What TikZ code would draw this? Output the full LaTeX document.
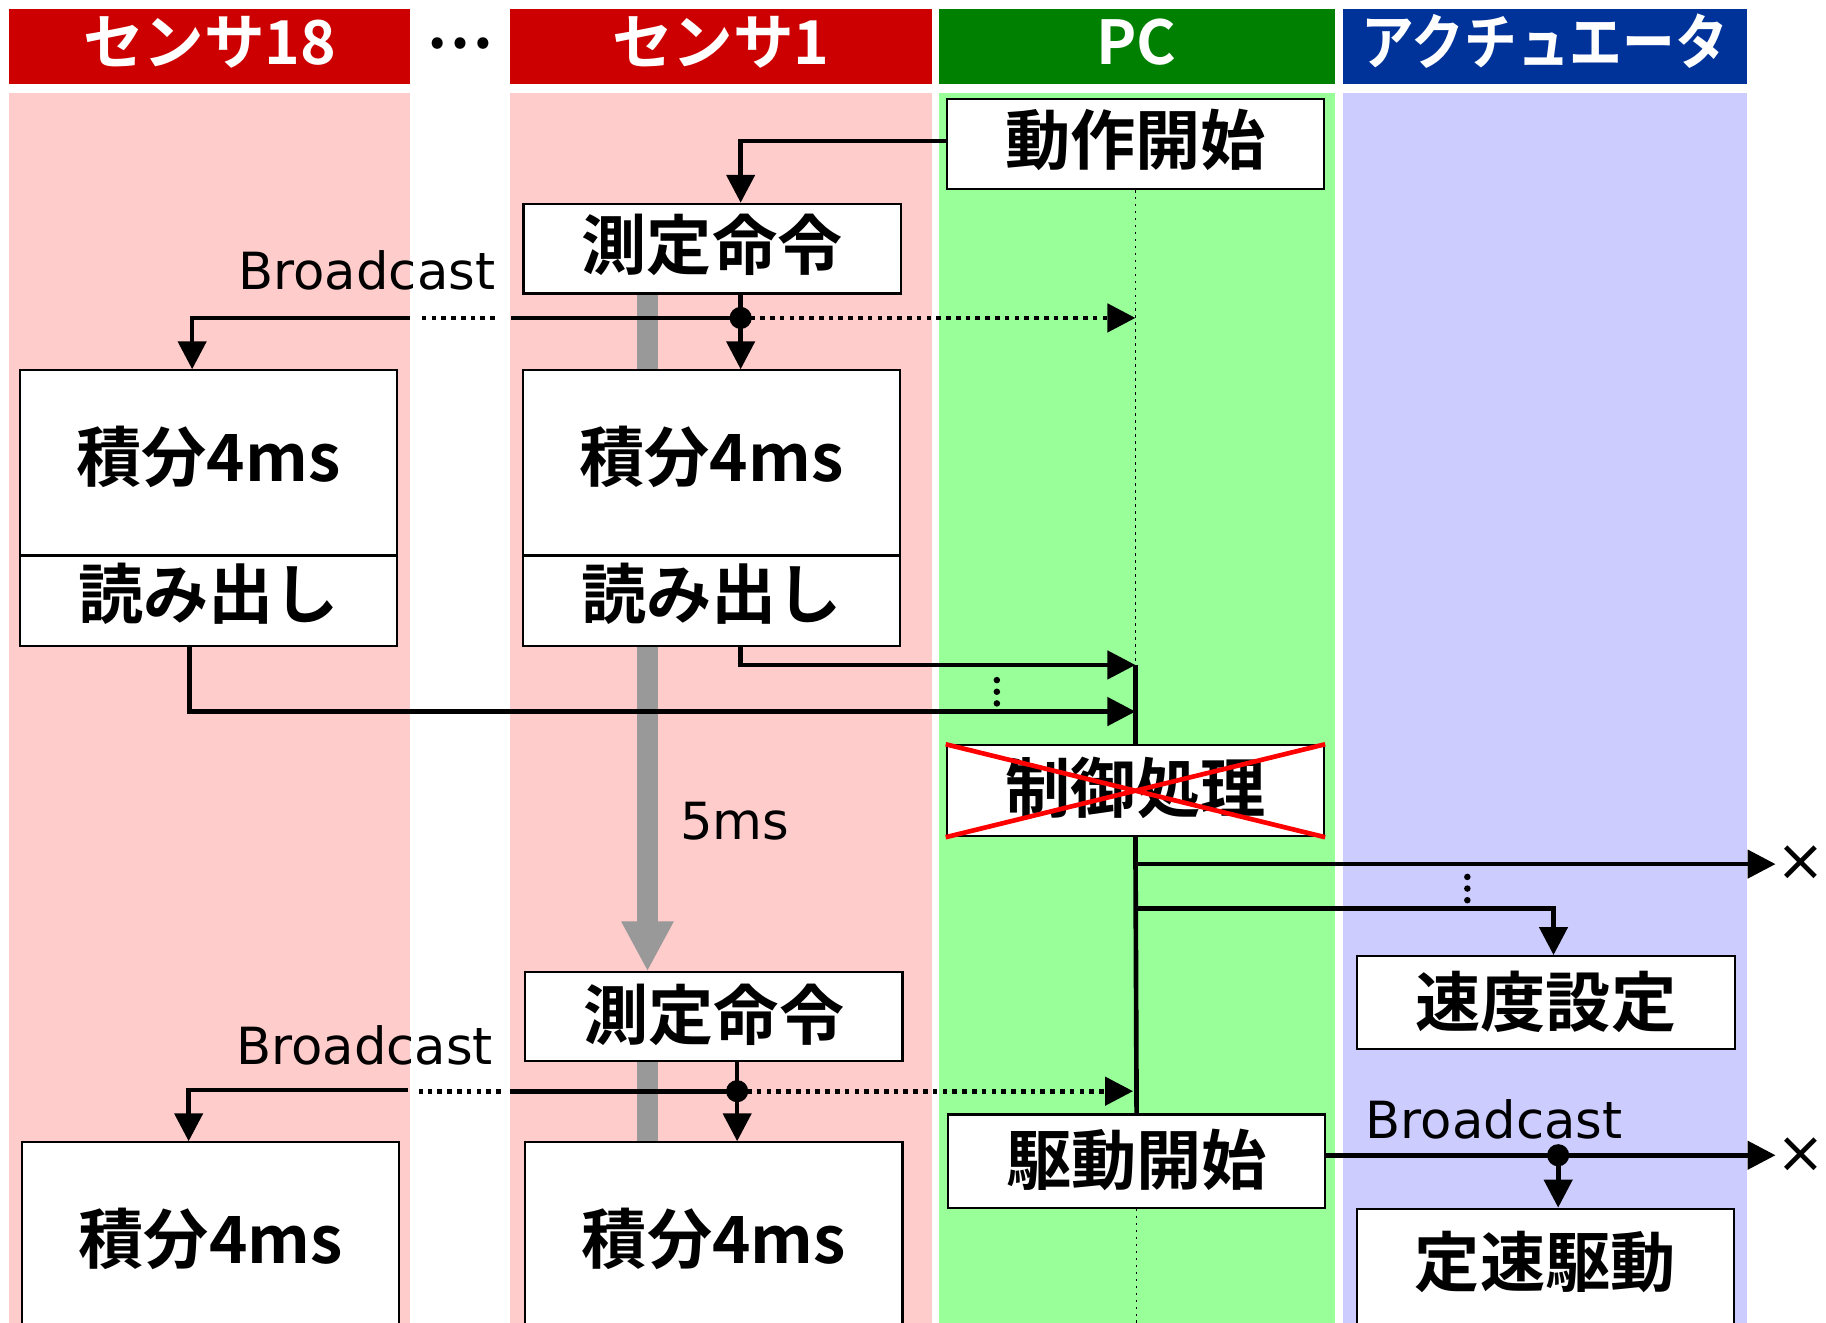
\documentclass[tikz,border=0pt]{standalone}
\usepackage{fontspec}
\newfontfamily\jp{Noto Sans CJK JP Bold}
\newfontfamily\dv{DejaVu Sans}
\usetikzlibrary{arrows.meta,calc,backgrounds}
\definecolor{hred}{HTML}{CC0000}
\definecolor{hgreen}{HTML}{008000}
\definecolor{hblue}{HTML}{003399}
\definecolor{bpink}{HTML}{FFCCCC}
\definecolor{bgreen}{HTML}{99FF99}
\definecolor{bblue}{HTML}{CCCCFF}
\definecolor{garrow}{HTML}{999999}
\begin{document}
\begin{tikzpicture}[x=0.5pt,y=-0.5pt,
  hdr/.style={fill=#1,text=white,font=\jp\fontsize{26pt}{30pt}\selectfont,inner sep=0pt,minimum height=32pt,text height=18.2pt,text depth=3pt},
  jbox/.style={draw=black,line width=0.9pt,fill=white,font=\jp\fontsize{28pt}{32pt}\selectfont,inner sep=0pt,minimum width=162pt,minimum height=#1},
  jbox/.default=38.5pt,
  up/.style={text height=23.7pt-#1pt,text depth=3pt},
  conn/.style={line width=2pt},
  arr/.style={conn,-{Triangle[length=12pt,width=12pt]}},
  dotln/.style={line width=2pt,dash pattern=on 2pt off 2.2pt},
  life/.style={line width=0.6pt,dash pattern=on 1.2pt off 1.8pt},
  lbl/.style={font=\dv\fontsize{22pt}{26pt}\selectfont,inner sep=0pt},
  xm/.style={font=\dv\fontsize{25pt}{28pt}\selectfont,inner sep=0pt},
  jdot/.style={circle,fill=black,inner sep=0pt,minimum size=9.5pt},
  vdot/.style={circle,fill=black,inner sep=0pt,minimum size=2.8pt},
]
\useasboundingbox (0,0) rectangle (1568,1136);

% headers
\node[hdr=hred,minimum width=172pt] (h18) at (180,40) {センサ18};
\node[font=\jp\fontsize{26pt}{30pt}\selectfont,inner sep=0pt] (hdots) at (395,37) {…};
\node[hdr=hred,minimum width=181pt] (h1) at (619,40) {センサ1};
\node[hdr=hgreen,minimum width=170pt] (hpc) at (976,40) {PC};
\node[hdr=hblue,minimum width=173.5pt] (hact) at (1326.5,40) {\scalebox{0.87}[1]{アクチュエータ}};

% boxes
\node[jbox,up=3] (start) at (975,123.5) {動作開始};
\node[jbox,up=2.5] (cmd1) at (611.5,213.5) {測定命令};
\node[jbox=79.5pt,up=4.5] (s18i) at (179,397.5) {積分4ms};
\node[jbox=39pt,up=5.5] (s18r) at (179,516) {読み出し};
\node[jbox=79.5pt,up=4.5] (s1i) at (611,397.5) {積分4ms};
\node[jbox=39pt,up=5.5] (s1r) at (611,516) {読み出し};
\node[jbox=39pt,up=2] (ctrl) at (975,679) {制御処理};
\node[jbox=40pt,up=0.5] (speed) at (1327.5,861) {速度設定};
\node[jbox=38pt,up=1.5] (cmd2) at (613,873) {測定命令};
\node[jbox=40pt,up=0.5] (drive) at (976,997) {駆動開始};
\node[jbox=0pt,anchor=north,text height=52pt,text depth=40pt] (s18b) at (181,980) {積分4ms};
\node[jbox=0pt,anchor=north,text height=52pt,text depth=40pt] (s1b) at (613,980) {積分4ms};
\node[jbox=0pt,anchor=north,text height=33.5pt,text depth=30pt] (const) at (1327,1037) {定速駆動};

\draw[red,line width=2pt] (ctrl.north west) -- (ctrl.south east) (ctrl.south west) -- (ctrl.north east);

% labels
\node[lbl,anchor=base] (bc1) at (315,249) {Broadcast};
\node[lbl,anchor=base] (bc2) at (313,914) {Broadcast};
\node[lbl,anchor=base] (bc3) at (1283,978) {Broadcast};
\node[lbl,anchor=base] (t5) at (631,721) {5ms};
\node[xm] (x1) at (1546,741) {×};
\node[xm] (x2) at (1546,992) {×};

% coordinates
\coordinate (b1) at (636,273);
\coordinate (g1r) at (439,273);
\coordinate (g1a) at (425,273);
\coordinate (g1b) at (362,273);
\coordinate (g1l) at (352,273);
\coordinate (pc1) at (975,273);
\coordinate (a1) at (975,571);
\coordinate (a2) at (975,611);
\coordinate (p1) at (975,742);
\coordinate (p2) at (975,780);
\coordinate (b2) at (633,937);
\coordinate (g2r) at (438,937);
\coordinate (g2a) at (430,937);
\coordinate (g2b) at (360,937);
\coordinate (g2l) at (350,936);
\coordinate (pc2) at (973,937);
\coordinate (bot) at (976,1136);
\coordinate (b3) at (1338,992);

% top connectors
\draw[arr] ([yshift=1.25pt]start.west) -| (cmd1.north -| b1);
\draw[arr] (cmd1.south -| b1) -- (s1i.north -| b1);
\draw[conn] (b1) -- (g1r);
\draw[dotln] (g1a) -- (g1b);
\draw[arr] (g1l) -| ($(s18i.north)+(-14,0)$);
\draw[dotln,-{Triangle[length=12pt,width=12pt]}] (b1) -- (pc1);
\node[jdot] (d1) at (b1) {};
\draw[life] (start.south) -- (a1);
\draw[arr] (s1r.south -| b1) |- (a1);
\draw[arr] ($(s18r.south)+(-16,0)$) |- (a2);
\node[vdot] (v1) at (856,584) {};
\node[vdot] (v2) at (856,594) {};
\node[vdot] (v3) at (856,604) {};
\draw[conn] (a1) -- (ctrl.north);
\draw[conn] (ctrl.south) -- (drive.north);
\draw[arr] (p1) -- (x1.west |- p1);
\draw[arr] (p2) -| ($(speed.north)+(6.5,0)$);
\node[vdot] (v4) at (1260,753) {};
\node[vdot] (v5) at (1260,763) {};
\node[vdot] (v6) at (1260,773) {};

% bottom connectors
\draw[arr] (cmd2.south -| b2) -- (s1b.north -| b2);
\draw[conn] (b2) -- (g2r);
\draw[dotln] (g2a) -- (g2b);
\draw[arr] (g2l) -| ($(s18b.north)+(-19,0)$);
\draw[dotln,-{Triangle[length=12pt,width=12pt]}] (b2) -- (pc2);
\node[jdot] (d2) at (b2) {};
\draw[life] (drive.south) -- (bot);
\draw[arr] (drive.east |- b3) -- (x2.west |- b3);
\draw[arr] (b3) -- (const.north -| b3);
\node[jdot] (d3) at (b3) {};

\begin{pgfonlayer}{background}
\fill[white] (0,0) rectangle (1568,1136);
\fill[bpink] (8,80) rectangle (352,1136);
\fill[bpink] (438,80) rectangle (800,1136);
\fill[bgreen] (806,80) rectangle (1146,1136);
\fill[bblue] (1153,80) rectangle (1500,1136);
\coordinate (gx) at (556,0);
\draw[garrow,line width=9pt,-{Triangle[length=21.5pt,width=21pt]}] (cmd1.south -| gx) -- (cmd2.north -| gx);
\draw[garrow,line width=9pt] (cmd2.south -| gx) -- (s1b.north -| gx);
\end{pgfonlayer}
\end{tikzpicture}
\end{document}
